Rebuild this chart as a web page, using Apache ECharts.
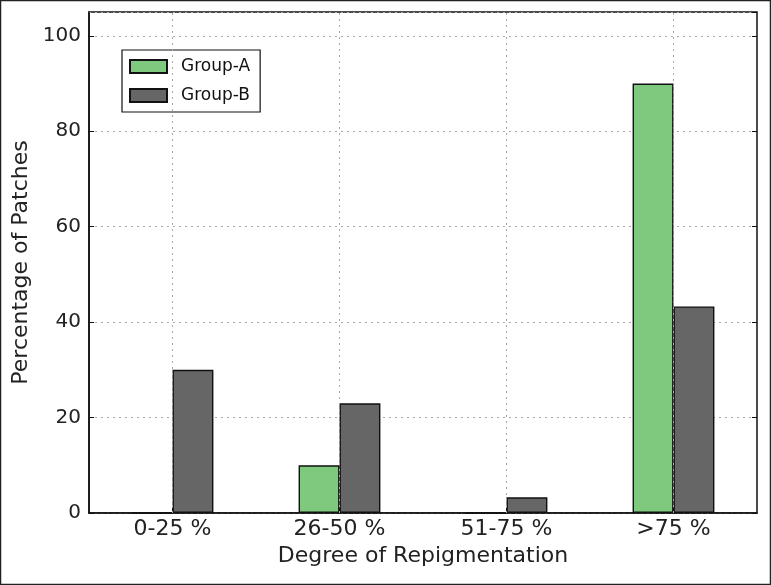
<!DOCTYPE html>
<html><head><meta charset="utf-8">
<script src="https://cdn.jsdelivr.net/npm/echarts@6/dist/echarts.min.js"></script>
<style>html,body{margin:0;padding:0;background:#fff}#c{width:771px;height:585px}</style>
</head><body><div id="c"></div>
<script>
const categories = ['0-25 %', '26-50 %', '51-75 %', '>75 %'];
const groupA = [0, 10, 0, 90];
const groupB = [30, 23, 3.3, 43.3];
const yTicks = [0, 20, 40, 60, 80, 100];

const chart = echarts.init(document.getElementById('c'));
const font = 'DejaVu Sans';
const gridLine = {show: true, lineStyle: {color: '#a8a8a8', type: [2, 4], width: 1}};
chart.setOption({
  animation: false,
  textStyle: {fontFamily: font},
  graphic: [{type: 'rect', shape: {x: 0.5, y: 0.5, width: 770, height: 584}, style: {fill: 'none', stroke: '#222', lineWidth: 1.5}, silent: true}],
  legend: {
    left: 122, top: 50, orient: 'vertical', itemWidth: 37, itemHeight: 13, itemGap: 12,
    icon: 'rect',
    padding: [8, 10, 8, 7], borderColor: '#111', borderWidth: 1.2, backgroundColor: '#fff',
    textStyle: {fontFamily: font, fontSize: 17, color: '#111', padding: [0, 0, 0, 9]},
    data: ['Group-A', 'Group-B']
  },
  grid: {left: 89, right: 14, top: 12, bottom: 72, containLabel: false, show: true, borderColor: '#111', borderWidth: 1.5},
  xAxis: [{
    type: 'category', data: categories,
    name: 'Degree of Repigmentation', nameLocation: 'middle', nameGap: 31,
    nameTextStyle: {fontFamily: font, fontSize: 22, color: '#222'},
    axisLine: {show: true, lineStyle: {color: '#111', width: 1.5}},
    axisTick: {show: true, inside: true, alignWithLabel: true, length: 5, lineStyle: {color: '#111'}},
    axisLabel: {fontFamily: font, fontSize: 22, color: '#222', margin: 5},
    splitLine: {show: false}
  }],
  yAxis: [{
    type: 'value', min: 0, max: 105, interval: 20,
    name: 'Percentage of Patches', nameLocation: 'middle', nameGap: 56,
    nameTextStyle: {fontFamily: font, fontSize: 22, color: '#222'},
    axisLine: {show: true, lineStyle: {color: '#111', width: 1.5}},
    axisTick: {show: true, inside: true, length: 5, lineStyle: {color: '#111'}},
    axisLabel: {fontFamily: font, fontSize: 20, color: '#222', margin: 8, showMaxLabel: false,
      formatter: v => yTicks.includes(v) ? String(v) : ''},
    splitLine: gridLine
  }, {
    type: 'value', min: 0, max: 105, interval: 20, position: 'right',
    axisLine: {show: false}, axisLabel: {show: false},
    axisTick: {show: true, inside: true, length: 5, lineStyle: {color: '#111'}},
    splitLine: {show: false}
  }],
  series: [{
    name: 'Group-A', type: 'bar', data: groupA, barWidth: '24.5%', barGap: '0%',
    itemStyle: {color: '#7fc97f', borderColor: '#111', borderWidth: 1.4}
  }, {
    name: 'Group-B', type: 'bar', data: groupB, barWidth: '24.5%', barGap: '0%',
    itemStyle: {color: '#666666', borderColor: '#111', borderWidth: 1.4}
  }, {
    type: 'line', data: [], markLine: {
      silent: true, symbol: 'none', label: {show: false},
      lineStyle: {color: '#a8a8a8', type: [2, 4], width: 1},
      data: categories.map(c => ({xAxis: c}))
    }, z: 0
  }]
});
</script></body></html>
